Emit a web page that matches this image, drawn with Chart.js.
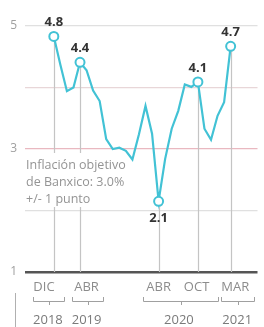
<!DOCTYPE html>
<html>
<head>
<meta charset="utf-8">
<script src="https://cdn.jsdelivr.net/npm/chart.js@4"></script>
<style>
  html, body { margin: 0; padding: 0; background: #fff; }
  #wrap { position: relative; width: 264px; height: 327px; }
</style>
</head>
<body>
<div id="wrap"><canvas id="inflChart" width="264" height="327"></canvas></div>
<script>
// monthly inflation, Dec 2018 .. Mar 2021
const months = ['DIC18','ENE19','FEB19','MAR19','ABR19','MAY19','JUN19','JUL19','AGO19','SEP19','OCT19','NOV19','DIC19',
  'ENE20','FEB20','MAR20','ABR20','MAY20','JUN20','JUL20','AGO20','SEP20','OCT20','NOV20','DIC20','ENE21','FEB21','MAR21'];
const inflation = [4.83, 4.37, 3.94, 4.00, 4.41, 4.28, 3.95, 3.78, 3.16, 3.00, 3.02, 2.97, 2.83,
  3.24, 3.70, 3.25, 2.15, 2.84, 3.33, 3.62, 4.05, 4.01, 4.09, 3.33, 3.15, 3.54, 3.76, 4.67];
// highlighted points and how their label sits
const highlight = [0, 4, 16, 22, 27];
const highlightText = ['4.8', '4.4', '2.1', '4.1', '4.7'];
const highlightBelow = [false, false, true, false, false];
// bottom axis labels
const monthLabels = ['DIC', 'ABR', 'ABR', 'OCT', 'MAR'];
const yearLabels = ['2018', '2019', '2020', '2021'];
const yTickLabels = [1, 3, 5];
const noteLines = ['Inflación objetivo', 'de Banxico: 3.0%', '+/- 1 punto'];

// layout (index units on the x scale)
const monthLabelPos = [-1.5, 5.0, 16.0, 21.8, 27.7];
const yearPos = [-0.9, 5.0, 19.1, 28.0];
const bracketPos = [[-3.2, 1.5], [2.7, 7.5], [13.6, 25.0], [25.5, 30.6]];

const lineColor = '#42c2d5';

const extras = {
  id: 'extras',
  beforeDatasetsDraw(chart) {
    const { ctx, scales: { x, y }, chartArea } = chart;
    ctx.save();
    // drop lines
    ctx.strokeStyle = '#c4c4c4';
    ctx.lineWidth = 1.2;
    highlight.forEach(i => {
      const px = Math.round(x.getPixelForValue(i)) + 0.5;
      ctx.beginPath();
      ctx.moveTo(px, y.getPixelForValue(inflation[i]));
      ctx.lineTo(px, chartArea.bottom);
      ctx.stroke();
    });
    // note box
    ctx.fillStyle = '#fff';
    ctx.fillRect(chartArea.left, 153, 108, 54);
    ctx.fillStyle = '#949494';
    ctx.font = '12.5px "Open Sans"';
    ctx.textAlign = 'left';
    ctx.textBaseline = 'middle';
    noteLines.forEach((t, k) => ctx.fillText(t, chartArea.left + 1, 165 + k * 17));
    ctx.restore();
  },
  afterDatasetsDraw(chart) {
    const { ctx, scales: { x, y } } = chart;
    ctx.save();
    // value labels
    ctx.fillStyle = '#333';
    ctx.font = 'bold 13px "Open Sans"';
    ctx.textAlign = 'center';
    ctx.textBaseline = 'middle';
    highlight.forEach((i, k) => {
      const px = x.getPixelForValue(i);
      const py = y.getPixelForValue(inflation[i]);
      ctx.fillText(highlightText[k], px, highlightBelow[k] ? py + 17 : py - 14);
    });
    // month labels
    ctx.fillStyle = '#8c8c8c';
    ctx.font = '13px "Open Sans"';
    monthLabels.forEach((t, k) => ctx.fillText(t, x.getPixelForValue(monthLabelPos[k]), 287));
    // brackets
    ctx.strokeStyle = '#a0a0a0';
    ctx.lineWidth = 1;
    bracketPos.forEach(([a, b]) => {
      const l = Math.round(x.getPixelForValue(a)) + 0.5;
      const r = Math.round(x.getPixelForValue(b)) + 0.5;
      const m = Math.round((l + r) / 2) + 0.5;
      ctx.beginPath();
      ctx.moveTo(l, 297); ctx.lineTo(l, 301.5); ctx.lineTo(r, 301.5); ctx.lineTo(r, 297);
      ctx.moveTo(m, 301.5); ctx.lineTo(m, 305);
      ctx.stroke();
    });
    // years
    ctx.fillStyle = '#7a7a7a';
    ctx.font = '13px "Open Sans"';
    yearLabels.forEach((t, k) => ctx.fillText(t, x.getPixelForValue(yearPos[k]), 320));
    // left border stub
    ctx.strokeStyle = '#b0b0b0';
    ctx.beginPath();
    ctx.moveTo(15.5, 293); ctx.lineTo(15.5, 327);
    ctx.stroke();
    ctx.restore();
  }
};

new Chart(document.getElementById('inflChart'), {
  type: 'line',
  data: {
    datasets: [{
      data: inflation.map((v, i) => ({ x: i, y: v })),
      borderColor: lineColor,
      borderWidth: 2.2,
      tension: 0,
      pointRadius: ctx => highlight.includes(ctx.dataIndex) ? 4.5 : 0,
      pointBorderWidth: 2,
      pointBackgroundColor: '#fff',
      pointBorderColor: lineColor
    }]
  },
  options: {
    responsive: false,
    animation: false,
    layout: { padding: { top: 26, bottom: 55, right: 6 } },
    plugins: { legend: { display: false }, tooltip: { enabled: false } },
    scales: {
      x: {
        type: 'linear',
        min: -4.4,
        max: 31.1,
        display: false
      },
      y: {
        min: 1,
        max: 5,
        afterBuildTicks: axis => { axis.ticks = [1, 2, 3, 4, 5].map(v => ({ value: v })); },
        afterFit: axis => { axis.width = 25; },
        border: { display: false },
        grid: {
          drawTicks: false,
          color: c => c.tick.value === 1 ? '#555' : c.tick.value === 3 ? '#e9b8c0' : c.tick.value === 4 ? '#e8d6d8' : '#e0e0e0',
          lineWidth: c => c.tick.value === 1 ? 2.5 : 1.2
        },
        ticks: {
          padding: 8,
          color: '#a0a0a0',
          font: { family: 'Open Sans', size: 12 },
          callback: v => yTickLabels.includes(v) ? String(v) : ''
        }
      }
    }
  },
  plugins: [extras]
});
</script>
</body>
</html>
